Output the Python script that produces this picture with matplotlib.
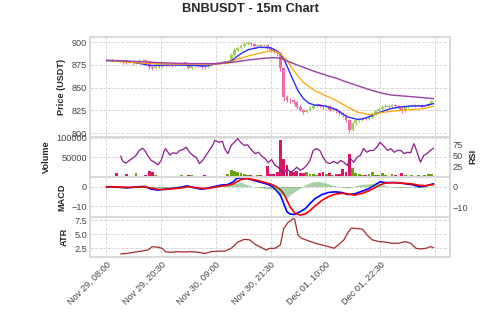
import numpy as np
import matplotlib
matplotlib.use('Agg')
import matplotlib.pyplot as plt

# ---- data (bar index = 15m candles from Nov 29 08:00) ----
candle_bars = np.arange(0, 300, 3)
closes = [880.0, 880.5, 881, 880, 879, 878, 877.5, 878, 877, 878.5,
          880, 880.5, 879, 873, 871.5, 874, 873, 874.5, 874, 875,
          874.5, 875.5, 876, 877.5, 877, 872, 873.5, 875, 874, 873,
          872.5, 874.5, 876, 877.5, 877, 878.5, 878, 879, 886, 892,
          894, 896, 898, 899, 898, 896, 897, 895.5, 896.5, 894,
          891, 890, 888, 872, 840, 837, 836, 834, 829, 826,
          823, 825, 828, 830, 831, 830.5, 829, 830, 826, 827,
          824, 822, 820, 815, 803, 811, 814, 815, 816, 815.5,
          818, 821, 824, 827, 829, 830, 829, 831, 830, 828,
          824, 829, 830, 831, 830, 831, 829, 830, 832, 835]
highs = [881, 881.5, 881.5, 881.5, 880.5, 879.5, 879, 879, 878.5, 879.5,
         881, 881.5, 881, 879.5, 874, 875, 875, 875.5, 875.5, 876,
         876, 876.5, 877, 878.5, 878.5, 877.5, 874.5, 876, 876, 875,
         874, 875.5, 877, 878.5, 878.5, 879.5, 879.5, 880, 888, 894,
         896, 898, 900, 901, 900, 899, 898.5, 898, 898, 897,
         895, 892.5, 891, 889, 873, 842, 839, 837.5, 835, 830.5,
         827, 826.5, 829.5, 832, 833, 832.5, 831.5, 831.5, 831, 828.5,
         828, 825, 823.5, 821, 816, 812.5, 815.5, 816.5, 817.5, 817,
         819.5, 823, 826, 829, 831, 832, 831.5, 832.5, 832.5, 831,
         829, 830, 831.5, 832.5, 832, 832.5, 832, 831.5, 833.5, 836.5]
lows = [879.5, 879.5, 880, 879, 878, 876.5, 876, 876.5, 875.5, 876.5,
        878, 879, 877.5, 870.5, 869.5, 870.5, 871.5, 872, 872.5, 873,
        873, 873.5, 874.5, 875, 875.5, 870.5, 871, 872.5, 872.5, 871,
        871, 871.5, 873.5, 875, 876, 876, 876.5, 877, 878.5, 885,
        890, 892.5, 895, 897, 896, 894.5, 895, 894, 894.5, 892.5,
        889, 888, 885, 868, 835, 834, 833, 832, 827, 824,
        821.5, 822, 824, 827, 829, 828.5, 827, 827.5, 824.5, 824,
        822, 820, 818, 812.5, 801, 802, 809.5, 812.5, 813.5, 814,
        814.5, 817, 820, 823, 826, 828, 827.5, 828, 828.5, 826.5,
        822, 823, 828, 829, 828.5, 829.5, 827.5, 828, 829, 831]
volumes = [2500, 3000, 2000, 9000, 3000, 2500, 8000, 3000, 2500, 11000,
           3000, 2000, 5000, 14000, 12000, 4000, 2500, 2000, 3000, 2500,
           2000, 3000, 2500, 4000, 3000, 5000, 3500, 2500, 2000, 3000,
           4000, 2500, 3000, 2500, 3000, 2500, 3000, 6000, 18000, 16000,
           12000, 9000, 8000, 5000, 4000, 3000, 5000, 4000, 3000, 28000,
           8000, 6000, 12000, 94000, 45000, 30000, 15000, 12000, 14000, 10000,
           9000, 12000, 8000, 7000, 5000, 9000, 12000, 6000, 10000, 5000,
           7000, 8000, 20000, 12000, 58000, 22000, 9000, 7000, 5000, 4000,
           6000, 12000, 5000, 4000, 9000, 5000, 3000, 6000, 4000, 3000,
           9000, 5000, 3000, 4000, 3000, 5000, 3000, 4000, 8000, 6000]

ema_fast_bars = [0, 20, 40, 60, 80, 90, 100, 110, 115, 120, 125, 130, 140, 150, 155, 158,
                 162, 165, 170, 175, 180, 185, 190, 200, 210, 215, 220, 230, 235, 240,
                 250, 260, 270, 280, 290, 299]
ema_fast = [880, 879, 874.5, 875, 874.5, 874, 876, 877.5, 880, 885, 889, 892, 894.5, 894, 891, 888,
            882, 874, 860, 847, 838, 833, 831, 830, 826, 822, 818, 815, 816, 818,
            823, 827, 829, 830, 830, 832.5]
ema_mid_bars = [0, 20, 40, 60, 80, 100, 110, 115, 120, 130, 140, 150, 155, 160, 165, 170,
                175, 180, 190, 200, 210, 220, 230, 240, 245, 250, 260, 270, 280, 290, 299]
ema_mid = [880, 878, 876.5, 876, 876, 876, 877, 879, 881.5, 885, 888, 890.5, 890, 886, 880, 871,
           863, 856, 847, 841.5, 836, 829, 823, 820.5, 820.5, 822.5, 824, 825, 826, 827, 829.5]
ema_slow_bars = [0, 25, 50, 75, 100, 115, 130, 145, 155, 160, 170, 180, 190, 200, 210, 220,
                 230, 240, 250, 260, 270, 280, 290, 299]
ema_slow = [880, 879, 877.5, 876.5, 876.5, 878, 880.5, 882.5, 883, 882, 877, 872.5, 868, 864, 860.5, 856,
            852, 848, 844.5, 842, 841, 840, 839, 838]

rsi_bars = [13, 15, 18, 21, 24, 27, 30, 33, 35, 38, 41, 44, 47, 50, 53, 54, 58, 61, 64, 67,
            70, 73, 76, 79, 82, 85, 88, 91, 94, 97, 99, 103, 106, 108, 111, 114, 117, 120, 123, 126,
            129, 133, 136, 139, 142, 145, 148, 151, 154, 157, 159, 162, 165, 168, 171, 174, 177, 180, 183, 186,
            189, 192, 195, 198, 201, 204, 208, 211, 214, 217, 220, 223, 226, 229, 232, 235, 238, 241, 244, 247,
            250, 253, 257, 260, 263, 266, 269, 272, 275, 278, 281, 284, 287, 290, 293, 296, 299]
rsi = [48.5, 37, 33, 39, 44, 50, 61, 66, 61, 48.5, 39, 35, 29, 39, 61, 65, 51, 56, 54, 61,
       63, 68, 57, 50, 46, 32, 39, 50, 61, 72, 83, 79, 81, 65, 54, 72, 79, 87, 78, 72,
       73.5, 61, 54, 57, 48.5, 43, 34, 41, 28, 24, 17, 10, 21, 13, 17, 24, 17, 21, 28, 39,
       61, 65, 61, 46, 35, 32, 37, 32, 39, 35, 28, 43, 35, 46, 50, 65, 57, 61, 61, 68,
       79, 72, 61, 65, 57, 61, 61, 54, 57, 56, 76, 57, 35, 50, 54, 61, 66]

macd_bars = [0, 10, 19, 28, 35, 41, 47, 53, 59, 68, 74, 80, 87, 93, 99, 105, 111, 116, 119, 123,
             129, 136, 142, 148, 152, 155, 159, 162, 165, 168, 172, 177, 182, 186, 191, 197, 203, 209, 215, 221,
             227, 234, 240, 246, 250, 255, 261, 267, 273, 279, 286, 292, 299]
macd = [0, -0.2, -0.5, 0, 0.2, -1.2, -1.7, -1.2, -0.9, -0.2, 0.5, -0.5, -1.2, -0.7, 0.2, 0.9, 1.2, 2.6, 4.3, 4.7,
        4.3, 3.1, 2.2, 1.2, 0, -1.7, -4.3, -8.6, -12.9, -14.1, -14.3, -12.9, -11.2, -8.6, -6, -4, -2.9, -2.6, -2.9, -4,
        -3.6, -2.2, -0.9, 1.2, 2.6, 2.2, 2.2, 2.1, 1.6, 1.2, 0, 0.5, 1.6]
signal = [0, -0.1, -0.3, -0.2, 0, -0.6, -1.3, -1.4, -1.1, -0.6, 0, -0.2, -0.8, -0.8, -0.2, 0.4, 0.8, 1.5, 2.5, 3.8,
          4.3, 3.6, 2.7, 1.8, 1.0, 0.2, -1.5, -3.5, -7, -10.5, -13.5, -14.6, -14.0, -12.3, -9.8, -7, -5, -3.8, -3.3, -3.7,
          -4.3, -3.3, -2, -0.3, 1.0, 1.9, 2.2, 2.1, 1.8, 1.5, 0.8, 0.6, 1.2]
hist_bars = [0, 19, 41, 53, 80, 105, 111, 117, 123, 129, 136, 142, 148, 154, 160, 165, 169, 175, 182, 188,
             194, 200, 206, 215, 221, 227, 234, 240, 246, 252, 258, 264, 270, 276, 283, 289, 295, 299]
hist = [0, -0.2, -0.5, -0.5, 0, 0.3, 0.5, 1.5, 2.0, 0.8, -0.3, -0.7, -1.0, -1.5, -4, -5.5, -3.5, -1.5, 1.0, 2.2,
        2.5, 1.8, 0.8, -0.3, -0.8, 0.4, 1.0, 1.4, 1.5, 0.9, 0.1, -0.3, -0.5, -0.2, -0.3, -0.5, 0, 0.3]

atr_bars = [13, 19, 25, 32, 38, 42, 47, 51, 54, 59, 65, 71, 77, 84, 90, 96, 102, 108, 114, 120,
            126, 131, 136, 142, 146, 149, 154, 159, 162, 166, 171, 172, 175, 178, 185, 191, 197, 203, 208, 212,
            217, 221, 224, 230, 234, 238, 243, 249, 255, 261, 267, 273, 278, 283, 287, 292, 296, 299]
atr = [1.5, 1.6, 1.8, 2.0, 2.2, 2.8, 2.7, 2.5, 1.9, 1.8, 1.9, 1.85, 1.9, 1.8, 1.6, 1.9, 2.0, 2.0, 2.5, 3.6,
       4.1, 4.0, 3.2, 2.6, 2.2, 2.5, 2.5, 3.1, 6.0, 7.1, 7.8, 7.7, 4.9, 4.3, 3.8, 3.4, 3.1, 2.8, 2.5, 3.1,
       4.0, 5.4, 6.1, 6.0, 5.9, 4.9, 4.0, 3.7, 3.6, 3.4, 3.4, 3.7, 3.4, 2.5, 2.4, 2.5, 2.8, 2.6]

tick_bars = [0, 50, 100, 150, 200, 250, 300]
tick_labels = ['Nov 29, 08:00', 'Nov 29, 20:30', 'Nov 30, 09:00', 'Nov 30, 21:30',
               'Dec 01, 10:00', 'Dec 01, 22:30', '']

plt.style.use('seaborn-v0_8-whitegrid')
plt.rcParams['font.family'] = ['Liberation Sans', 'DejaVu Sans']
plt.rcParams['axes.edgecolor'] = '#d9d9d9'
plt.rcParams['axes.linewidth'] = 1.4
plt.rcParams['grid.linestyle'] = '--'
plt.rcParams['grid.color'] = '#d0d0d0'
plt.rcParams['grid.linewidth'] = 0.6
FS = 6.6

fig, (ax1, ax2, ax3, ax4) = plt.subplots(4, 1, figsize=(5, 3.12), dpi=100, sharex=True,
                                         gridspec_kw={'height_ratios': [2.5, 1, 1, 1], 'hspace': 0})
fig.subplots_adjust(left=0.18, right=0.9, top=0.882, bottom=0.177)

# candles: open = previous close
closes = np.array(closes)
opens = np.r_[closes[0], closes[:-1]]
up = closes >= opens
candle_col = np.where(up, '#9fd05a', '#f36aa8')
body = np.where(np.abs(closes - opens) < 0.6, 0.6, closes - opens)
ax1.vlines(candle_bars, lows, highs, colors=candle_col, lw=0.8, zorder=2)
ax1.bar(candle_bars, body, bottom=opens, width=2.6, color=candle_col, linewidth=0, zorder=2)
ax1.plot(ema_fast_bars, ema_fast, color='#2b2bff', lw=1.0, zorder=3)
ax1.plot(ema_mid_bars, ema_mid, color='orange', lw=0.9, zorder=3)
ax1.plot(ema_slow_bars, ema_slow, color='#9b3fa3', lw=1.0, zorder=3)
ax1.set_ylim(796, 906)
ax1.set_yticks([800, 825, 850, 875, 900])
ax1.set_ylabel('Price (USDT)', fontsize=FS, fontweight='bold')

# volume + RSI
ax2.bar(candle_bars, volumes, width=2.6, color=np.where(up, '#6aa312', '#dc1464'), linewidth=0)
ax2.set_ylim(0, 102600)
ax2.set_yticks([50000, 100000])
ax2.set_ylabel('Volume', fontsize=FS, fontweight='bold')
ax2r = ax2.twinx()
ax2r.plot(rsi_bars, rsi, color='#8b1a8b', lw=0.9)
ax2r.set_ylim(3, 91)
ax2r.set_yticks([25, 50, 75])
ax2r.grid(False)
ax2r.set_ylabel('RSI', fontsize=FS, fontweight='bold')

# MACD
ax3.plot(macd_bars, macd, color='blue', lw=1.2, zorder=3)
ax3.plot(macd_bars, signal, color='red', lw=1.2, zorder=3)
ax3.set_ylim(-15.5, 5.2)
ax3.set_yticks([-10, 0])
ax3.set_ylabel('MACD', fontsize=FS, fontweight='bold')
ax3r = ax3.twinx()
ax3r.fill_between(hist_bars, hist, 0, color='green', alpha=0.35, linewidth=0)
ax3r.set_ylim(-14.6, 4.7)
ax3r.set_yticks([-10, 0])
ax3r.grid(False)

# ATR
ax4.plot(atr_bars, atr, color='#a52a2a', lw=0.9)
ax4.set_ylim(1.0, 8.1)
ax4.set_yticks([2.5, 5.0, 7.5])
ax4.set_ylabel('ATR', fontsize=FS, fontweight='bold')

ax4.set_xlim(-15, 314)
ax4.set_xticks(tick_bars)
ax4.set_xticklabels(tick_labels, rotation=45, ha='right', rotation_mode='anchor')

for ax in (ax1, ax2, ax2r, ax3, ax3r, ax4):
    ax.tick_params(labelsize=FS, colors='#444444', pad=2)

fig.suptitle('BNBUSDT - 15m Chart', fontsize=9.3, fontweight='bold', y=0.99)
fig.savefig('out.png', dpi=100)
